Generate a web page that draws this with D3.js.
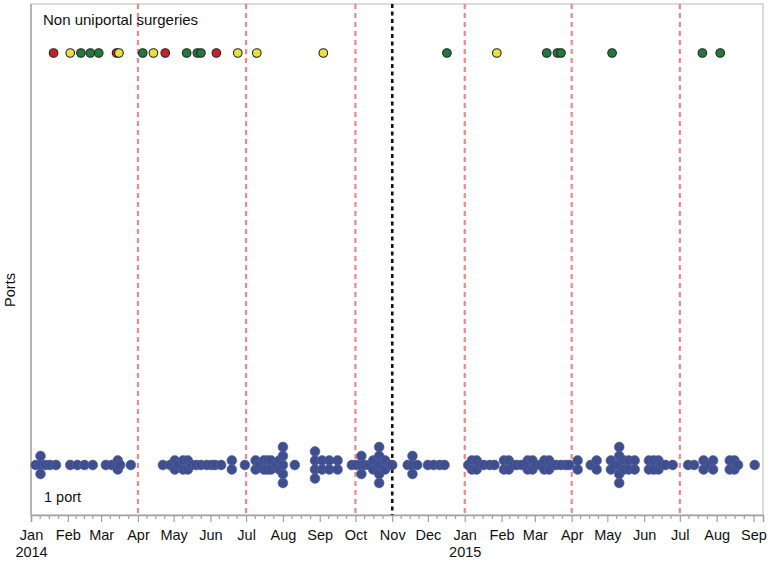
<!DOCTYPE html>
<html>
<head>
<meta charset="utf-8">
<script src="https://cdn.jsdelivr.net/npm/d3@7"></script>
<style>
	body { margin: 0; background: #fff; }
	svg { display: block; font-family: 'Liberation Sans', Arial, sans-serif; }
</style>
</head>
<body>
<div id="chart"></div>
<script>
// uniportal cases: date and how many that day
const portDates = [
	'2014-01-05', '2014-01-09', '2014-01-13', '2014-01-17', '2014-01-22', '2014-02-03', '2014-02-09',
	'2014-02-15', '2014-02-22', '2014-03-05', '2014-03-10', '2014-03-15', '2014-03-17', '2014-03-26',
	'2014-04-22', '2014-04-28', '2014-05-02', '2014-05-05', '2014-05-09', '2014-05-13', '2014-05-16',
	'2014-05-20', '2014-05-24', '2014-05-29', '2014-06-02', '2014-06-05', '2014-06-10', '2014-06-19',
	'2014-06-30', '2014-07-09', '2014-07-12', '2014-07-16', '2014-07-19', '2014-07-22', '2014-07-26',
	'2014-07-29', '2014-08-01', '2014-08-11', '2014-08-28', '2014-09-03', '2014-09-09', '2014-09-16',
	'2014-09-28', '2014-10-02', '2014-10-06', '2014-10-09', '2014-10-13', '2014-10-16', '2014-10-21',
	'2014-10-26', '2014-10-30', '2014-11-01', '2014-11-14', '2014-11-18', '2014-11-22', '2014-12-01',
	'2014-12-06', '2014-12-11', '2014-12-15', '2015-01-04', '2015-01-07', '2015-01-11', '2015-01-14',
	'2015-01-17', '2015-01-22', '2015-01-26', '2015-02-03', '2015-02-07', '2015-02-11', '2015-02-14',
	'2015-02-18', '2015-02-23', '2015-02-27', '2015-03-02', '2015-03-06', '2015-03-09', '2015-03-13',
	'2015-03-16', '2015-03-19', '2015-03-23', '2015-03-27', '2015-03-30', '2015-04-06', '2015-04-17',
	'2015-04-22', '2015-05-04', '2015-05-07', '2015-05-11', '2015-05-15', '2015-05-19', '2015-05-24',
	'2015-06-05', '2015-06-09', '2015-06-13', '2015-06-16', '2015-06-19', '2015-06-25', '2015-07-08',
	'2015-07-13', '2015-07-21', '2015-07-26', '2015-07-29', '2015-08-12', '2015-08-16', '2015-08-19',
	'2015-09-02'
];
const portCounts = [
	1, 3, 1, 1, 1, 1, 1,
	1, 1, 1, 1, 2, 1, 1,
	1, 1, 2, 1, 2, 2, 1,
	1, 1, 1, 1, 1, 1, 2,
	1, 2, 1, 2, 2, 2, 1,
	2, 5, 1, 4, 2, 2, 2,
	1, 1, 3, 1, 1, 2, 5,
	2, 1, 1, 1, 3, 1, 1,
	1, 1, 1, 1, 2, 2, 1,
	1, 1, 1, 2, 2, 1, 1,
	1, 2, 2, 1, 1, 2, 2,
	1, 1, 1, 1, 1, 2, 1,
	2, 2, 1, 5, 2, 2, 2,
	2, 2, 2, 1, 1, 1, 1,
	1, 2, 1, 2, 2, 2, 1,
	1
];

// non uniportal cases
const otherDates = [
	'2014-01-20', '2014-02-03', '2014-02-12', '2014-02-20', '2014-02-27', '2014-03-14', '2014-03-16',
	'2014-04-05', '2014-04-14', '2014-04-24', '2014-05-12', '2014-05-21', '2014-05-24', '2014-06-06',
	'2014-06-24', '2014-07-10', '2014-09-04', '2014-12-17', '2015-01-28', '2015-03-11', '2015-03-20',
	'2015-03-23', '2015-05-05', '2015-07-20', '2015-08-04'
];
const otherTypes = [
	'r', 'y', 'g', 'g', 'g', 'r', 'y',
	'g', 'y', 'r', 'g', 'g', 'g', 'r',
	'y', 'y', 'y', 'g', 'y', 'g', 'g',
	'g', 'g', 'g', 'g'
];

const quarterDates = ['2014-04-01', '2014-07-01', '2014-10-01', '2015-01-01', '2015-04-01', '2015-07-01'];
const changeDate = '2014-11-01';

const width = 770;
const height = 564;
const m = { left: 31, right: 763, top: 4, bottom: 515 };
const parse = d3.utcParse('%Y-%m-%d');

const svg = d3.select('#chart').append('svg').attr('width', width).attr('height', height);

const x = d3
	.scaleUtc()
	.domain([parse('2014-01-01'), parse('2015-09-09')])
	.range([m.left, m.right]);

// frame
svg
	.append('rect')
	.attr('x', m.left)
	.attr('y', m.top)
	.attr('width', m.right - m.left)
	.attr('height', m.bottom - m.top)
	.attr('fill', 'none')
	.attr('stroke', '#cfcfcf')
	.attr('stroke-width', 1.5);

svg
	.selectAll('.quarter')
	.data(quarterDates)
	.enter()
	.append('line')
	.attr('class', 'quarter')
	.attr('x1', (d) => x(parse(d)))
	.attr('x2', (d) => x(parse(d)))
	.attr('y1', m.top)
	.attr('y2', m.bottom)
	.attr('stroke', '#f0878a')
	.attr('stroke-width', 2.2)
	.attr('stroke-dasharray', '5,4');

svg
	.append('line')
	.attr('x1', x(parse(changeDate)))
	.attr('x2', x(parse(changeDate)))
	.attr('y1', m.top)
	.attr('y2', m.bottom)
	.attr('stroke', '#111')
	.attr('stroke-width', 2.6)
	.attr('stroke-dasharray', '4,3.5');

// left axis line
svg
	.append('line')
	.attr('x1', m.left)
	.attr('x2', m.left)
	.attr('y1', m.top)
	.attr('y2', m.bottom)
	.attr('stroke', '#b4b4b4')
	.attr('stroke-width', 2);

// x axis
const months = d3.utcMonth.range(parse('2014-01-01'), parse('2015-10-01'));
const xAxis = d3
	.axisBottom(x)
	.tickValues(months.filter((d) => d <= x.domain()[1]))
	.tickSize(7)
	.tickPadding(8)
	.tickFormat(d3.utcFormat('%b'));

const gx = svg.append('g').attr('transform', `translate(0,${m.bottom})`).call(xAxis);
gx.attr('font-family', null).attr('font-size', 14.5);
gx.select('.domain').attr('stroke', '#a0a0a0').attr('stroke-width', 1.5);
gx.selectAll('.tick line').attr('stroke', '#a0a0a0').attr('stroke-width', 1.2);
gx.selectAll('.tick text').attr('fill', '#111');
gx.selectAll('.tick')
	.filter((d) => d.getUTCMonth() === 0)
	.append('text')
	.attr('y', 32)
	.attr('dy', '0.71em')
	.attr('fill', '#111')
	.text((d) => d.getUTCFullYear());

// minor ticks, three per month
const minor = [];
months.forEach((d, i) => {
	if (i === months.length - 1) return;
	const a = +d, b = +months[i + 1];
	for (let k = 1; k < 4; k++) {
		const t = new Date(a + ((b - a) * k) / 4);
		if (t <= x.domain()[1]) minor.push(t);
	}
});
svg
	.selectAll('.minor')
	.data(minor)
	.enter()
	.append('line')
	.attr('class', 'minor')
	.attr('x1', (d) => x(d))
	.attr('x2', (d) => x(d))
	.attr('y1', m.bottom)
	.attr('y2', m.bottom + 4)
	.attr('stroke', '#a0a0a0')
	.attr('stroke-width', 1.2);

// uniportal dots, stacked when several on one day
const rowY = 465, step = 9;
const stacked = [];
portDates.forEach((d, i) => {
	const n = portCounts[i];
	for (let k = 0; k < n; k++) stacked.push({ date: parse(d), off: k - (n - 1) / 2 });
});
svg
	.append('g')
	.selectAll('circle')
	.data(stacked)
	.enter()
	.append('circle')
	.attr('cx', (d) => x(d.date))
	.attr('cy', (d) => rowY + d.off * step)
	.attr('r', 4.9)
	.attr('fill', '#3f4e8e')
	.attr('stroke', '#5563a0')
	.attr('stroke-width', 0.6);

const typeColor = { r: '#cc1e24', y: '#e8e03c', g: '#1f7a3c' };
svg
	.append('g')
	.selectAll('circle')
	.data(otherDates)
	.enter()
	.append('circle')
	.attr('cx', (d) => x(parse(d)))
	.attr('cy', 53)
	.attr('r', 4.3)
	.attr('fill', (d, i) => typeColor[otherTypes[i]])
	.attr('stroke', '#222')
	.attr('stroke-width', 1.1);

svg.append('text').attr('x', 43).attr('y', 25).attr('font-size', 15).attr('fill', '#111').text('Non uniportal surgeries');
svg.append('text').attr('x', 44).attr('y', 502).attr('font-size', 14.5).attr('fill', '#111').text('1 port');
svg
	.append('text')
	.attr('transform', 'translate(15,290) rotate(-90)')
	.attr('text-anchor', 'middle')
	.attr('font-size', 14.5)
	.attr('fill', '#111')
	.text('Ports');
</script>
</body>
</html>
